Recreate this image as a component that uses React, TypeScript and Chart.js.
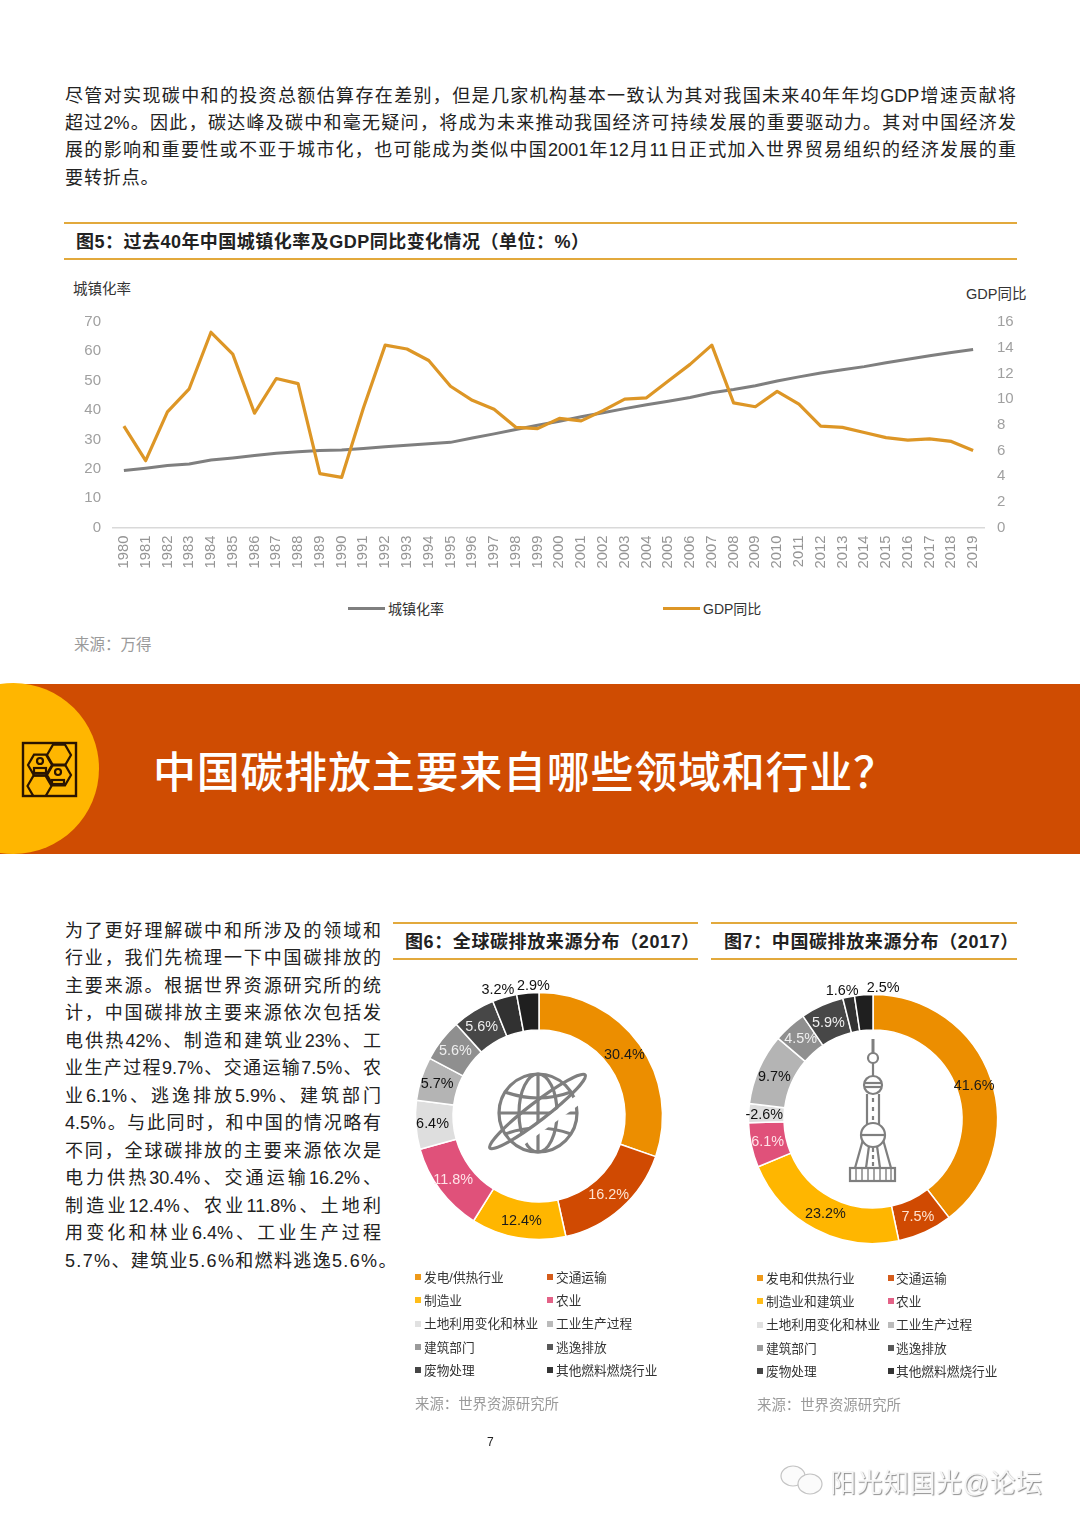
import React, { useEffect, useRef } from "react";
import Chart from "chart.js/auto";

const years = ["1980","1981","1982","1983","1984","1985","1986","1987","1988","1989","1990","1991","1992","1993","1994","1995","1996","1997","1998","1999","2000","2001","2002","2003","2004","2005","2006","2007","2008","2009","2010","2011","2012","2013","2014","2015","2016","2017","2018","2019"];
const urbanRate = [19.4,20.2,21.1,21.6,23.0,23.7,24.5,25.3,25.8,26.2,26.4,26.9,27.5,28.0,28.5,29.0,30.5,31.9,33.4,34.8,36.2,37.7,39.1,40.5,41.8,43.0,44.3,45.9,47.0,48.3,49.9,51.3,52.6,53.7,54.8,56.1,57.3,58.5,59.6,60.6];
const gdpGrowth = [7.9,5.2,9.0,10.8,15.2,13.5,8.9,11.6,11.2,4.2,3.9,9.3,14.2,13.9,13.0,11.0,9.9,9.2,7.8,7.7,8.5,8.3,9.1,10.0,10.1,11.4,12.7,14.2,9.7,9.4,10.6,9.6,7.9,7.8,7.4,7.0,6.8,6.9,6.7,6.0];

const globalLabels = ["发电/供热行业","交通运输","制造业","农业","土地利用变化和林业","工业生产过程","建筑部门","逃逸排放","废物处理","其他燃料燃烧行业"];
const globalValues = [30.4,16.2,12.4,11.8,6.4,5.7,5.6,5.6,3.2,2.9];
const chinaLabels = ["发电和供热行业","交通运输","制造业和建筑业","农业","土地利用变化和林业","工业生产过程","建筑部门","逃逸排放","废物处理","其他燃料燃烧行业"];
const chinaValues = [41.6,7.5,23.2,6.1,-2.6,9.7,4.5,5.9,1.6,2.5];

const sliceColors = ["#EC8E00","#D04A02","#FFB600","#E0517A","#DEDEDE","#B4B4B4","#8F8F8F","#474747","#313131","#1F1F1F"];
const labelColors = ["#1a1a1a","#FFE3D0","#1a1a1a","#FFE3E8","#111","#111","#EEE","#EEE","#111","#111"];
const globalOffsets = [[0,0],[0,1],[0,2],[-2,1],[-2,0],[-2,0],[-1,-1],[-2,0],[-12,-25],[4,-26]];
const chinaOffsets = [[0,1],[0,1],[2,1],[-1,1],[-2,1],[-1,1],[-1,-1],[-1,1],[-10,-23],[18,-25]];

const topPara = [
  "尽管对实现碳中和的投资总额估算存在差别，但是几家机构基本一致认为其对我国未来40年年均GDP增速贡献将",
  "超过2%。因此，碳达峰及碳中和毫无疑问，将成为未来推动我国经济可持续发展的重要驱动力。其对中国经济发",
  "展的影响和重要性或不亚于城市化，也可能成为类似中国2001年12月11日正式加入世界贸易组织的经济发展的重",
];
const topParaLast = "要转折点。";
const sidePara = [
  "为了更好理解碳中和所涉及的领域和",
  "行业，我们先梳理一下中国碳排放的",
  "主要来源。根据世界资源研究所的统",
  "计，中国碳排放主要来源依次包括发",
  "电供热42%、制造和建筑业23%、工",
  "业生产过程9.7%、交通运输7.5%、农",
  "业6.1%、逃逸排放5.9%、建筑部门",
  "4.5%。与此同时，和中国的情况略有",
  "不同，全球碳排放的主要来源依次是",
  "电力供热30.4%、交通运输16.2%、",
  "制造业12.4%、农业11.8%、土地利",
  "用变化和林业6.4%、工业生产过程",
];
const sideParaLast = "5.7%、建筑业5.6%和燃料逃逸5.6%。";

const FONT = '"Liberation Sans", "Noto Sans CJK SC", sans-serif';

function T({ x, y, size, color = "#222", weight = 400, children, spacing = 0, width }: any) {
  const justify = width !== undefined;
  return (
    <div
      style={{
        position: "absolute", left: x, top: y, transform: "translateY(-50%)",
        fontSize: size, color, fontWeight: weight, letterSpacing: spacing,
        whiteSpace: "nowrap", lineHeight: 1.2, fontFamily: FONT,
        ...(justify ? { width, textAlign: "justify", textAlignLast: "justify", whiteSpace: "normal" } : {}),
      }}
    >
      {children}
    </div>
  );
}

function Rule({ x, y, w }: any) {
  return <div style={{ position: "absolute", left: x, top: y - 1, width: w, height: 2, background: "#E2A93C" }} />;
}

function LineChart() {
  const ref = useRef<HTMLCanvasElement>(null);
  useEffect(() => {
    const chart = new Chart(ref.current!, {
      type: "line",
      data: {
        labels: years,
        datasets: [
          { label: "城镇化率", data: urbanRate, borderColor: "#7F7F7F", borderWidth: 3, pointRadius: 0, yAxisID: "y", order: 2 },
          { label: "GDP同比", data: gdpGrowth, borderColor: "#DD9626", borderWidth: 3.2, pointRadius: 0, yAxisID: "y1", order: 1, borderJoinStyle: "round" },
        ],
      },
      options: {
        responsive: false,
        animation: false,
        layout: { padding: { top: 20.5, bottom: 0, left: 0, right: 0 } },
        plugins: { legend: { display: false }, tooltip: { enabled: false } },
        scales: {
          x: {
            offset: true,
            grid: { display: false, drawTicks: false },
            border: { color: "#D9D9D9", width: 1.5 },
            ticks: { autoSkip: false, minRotation: 90, maxRotation: 90, padding: 8, color: "#959595", font: { size: 14.8, family: FONT } },
            afterFit: (s: any) => { s.height = 62.5; },
          },
          y: {
            position: "left", min: 0, max: 70,
            grid: { display: false, drawTicks: false },
            border: { display: false },
            ticks: { stepSize: 10, padding: 12, color: "#A0A0A0", font: { size: 15, family: FONT } },
            afterFit: (s: any) => { s.width = 53; },
          },
          y1: {
            position: "right", min: 0, max: 16,
            grid: { display: false, drawTicks: false },
            border: { display: false },
            ticks: { stepSize: 2, padding: 13, color: "#A0A0A0", font: { size: 15, family: FONT } },
            afterFit: (s: any) => { s.width = 46; },
          },
        },
      },
    } as any);
    return () => chart.destroy();
  }, []);
  return <canvas ref={ref} width={970} height={290} style={{ position: "absolute", left: 60, top: 300, width: 970, height: 290 }} />;
}

function Donut({ cx, cy, outer, inner, values, labels, colors, offsets }: any) {
  const ref = useRef<HTMLCanvasElement>(null);
  useEffect(() => {
    const labelPlugin = {
      id: "sliceLabels",
      afterDatasetsDraw(c: any) {
        const ctx = c.ctx;
        const arcs = c.getDatasetMeta(0).data;
        ctx.save();
        ctx.font = `14.4px ${FONT}`;
        ctx.textAlign = "center";
        ctx.textBaseline = "middle";
        arcs.forEach((arc: any, i: number) => {
          const p = arc.tooltipPosition();
          ctx.fillStyle = colors[i];
          ctx.fillText(`${values[i]}%`, p.x + offsets[i][0], p.y + offsets[i][1]);
        });
        ctx.restore();
      },
    };
    const chart = new Chart(ref.current!, {
      type: "doughnut",
      data: {
        labels,
        datasets: [{
          data: values.map((v: number) => Math.abs(v)),
          backgroundColor: sliceColors,
          borderColor: "#FFFFFF",
          borderWidth: 1.5,
        }],
      },
      options: {
        responsive: false,
        animation: false,
        radius: outer,
        cutout: `${(inner / outer) * 100}%`,
        plugins: { legend: { display: false }, tooltip: { enabled: false } },
      },
      plugins: [labelPlugin],
    } as any);
    return () => chart.destroy();
  }, []);
  return <canvas ref={ref} width={300} height={300} style={{ position: "absolute", left: cx - 150, top: cy - 150, width: 300, height: 300 }} />;
}

function KeyList({ labels, x1, t1, x2, t2, rows }: any) {
  return (
    <>
      {labels.map((l: string, i: number) => {
        const col = i % 2;
        const y = rows[Math.floor(i / 2)];
        return (
          <React.Fragment key={i}>
            <div style={{ position: "absolute", left: col ? x2 : x1, top: y - 4, width: 6, height: 6, background: sliceColors[i], opacity: 0.9 }} />
            <T x={col ? t2 : t1} y={y + 0.5} size={12.7} color="#333">{l}</T>
          </React.Fragment>
        );
      })}
    </>
  );
}

function hexPts(cx: number, cy: number) {
  const r = 12, h = 10.4;
  return [[cx - r, cy], [cx - r / 2, cy - h], [cx + r / 2, cy - h], [cx + r, cy], [cx + r / 2, cy + h], [cx - r / 2, cy + h]].map((p) => p.join(",")).join(" ");
}

function Icons() {
  const dark = "#2A1400";
  const g = "#7F7F7F";
  return (
    <svg width={1080} height={1527} style={{ position: "absolute", left: 0, top: 0, pointerEvents: "none" }}>
      <rect x={23} y={743} width={53} height={53} fill="none" stroke={dark} strokeWidth={2.4} />
      <defs><clipPath id="sq"><rect x={23} y={743} width={53} height={53} /></clipPath></defs>
      <g clipPath="url(#sq)" fill="none" stroke={dark} strokeWidth={2.2}>
        <polygon points={hexPts(59, 755)} />
        <polygon points={hexPts(40, 765)} />
        <polygon points={hexPts(59, 775)} />
        <polygon points={hexPts(39.5, 786)} />
        <circle cx={40} cy={761} r={3} />
        <circle cx={58} cy={772} r={3} />
        <rect x={34} y={768} width={12} height={5} />
        <rect x={52} y={780} width={12} height={4} />
      </g>
      <g fill="none" stroke={g} strokeWidth={3.2}>
        <circle cx={538} cy={1113} r={39} />
        <ellipse cx={538} cy={1113} rx={19} ry={39} />
        <line x1={538} y1={1074} x2={538} y2={1152} />
        <line x1={499} y1={1113} x2={577} y2={1113} />
        <path d="M505 1092 Q538 1104 571 1092" />
        <path d="M505 1134 Q538 1122 571 1134" />
        <line x1={520} y1={1142} x2={578} y2={1100} stroke="#fff" strokeWidth={9} />
        <ellipse cx={537.5} cy={1111.5} rx={60} ry={9} transform="rotate(-37.5 537.5 1111.5)" />
      </g>
      <g fill="#fff" stroke={g} strokeWidth={2.2}>
        <line x1={873} y1={1039} x2={873} y2={1054} strokeWidth={3} />
        <circle cx={873} cy={1058} r={5} />
        <line x1={873} y1={1063} x2={873} y2={1076} />
        <line x1={867} y1={1094} x2={867} y2={1126} />
        <line x1={879} y1={1094} x2={879} y2={1126} />
        <line x1={873} y1={1098} x2={873} y2={1122} strokeDasharray="4 5" />
        <circle cx={873} cy={1085} r={9} />
        <line x1={864} y1={1083} x2={882} y2={1083} />
        <line x1={864} y1={1087} x2={882} y2={1087} />
        <line x1={864} y1={1136} x2={855} y2={1168} />
        <line x1={882} y1={1136} x2={891} y2={1168} />
        <line x1={869} y1={1146} x2={866} y2={1168} />
        <line x1={877} y1={1146} x2={880} y2={1168} />
        <line x1={873} y1={1148} x2={873} y2={1168} strokeDasharray="4 3" />
        <circle cx={873} cy={1135} r={12} />
        <line x1={861} y1={1135} x2={885} y2={1135} />
        <rect x={850} y={1168} width={45} height={13} />
        {[856, 862, 868, 874, 880, 886, 891].map((x) => <line key={x} x1={x} y1={1168} x2={x} y2={1181} strokeWidth={1.4} />)}
      </g>
      <g fill="#fbfbfb" stroke="#c4c4c4" strokeWidth={1.2}>
        <ellipse cx={793} cy={1476} rx={12} ry={10} />
        <ellipse cx={810} cy={1484} rx={12} ry={10} />
      </g>
    </svg>
  );
}

export default function App() {
  return (
    <div style={{ position: "absolute", left: 0, top: 0, width: 1080, height: 1527, background: "#fff", overflow: "hidden", fontFamily: FONT }}>
      {topPara.map((l, i) => <T key={i} x={65} y={96.5 + i * 27.4} size={18} color="#222" width={951}>{l}</T>)}
      <T x={65} y={178.5} size={18} color="#222" spacing={0.9}>{topParaLast}</T>

      <Rule x={64} y={222.5} w={953} />
      <Rule x={64} y={258.5} w={953} />
      <T x={76} y={242.5} size={18} weight={700} color="#222" spacing={0.48}>图5：过去40年中国城镇化率及GDP同比变化情况（单位：%）</T>

      <T x={73} y={290} size={14.5} color="#333">城镇化率</T>
      <T x={966} y={294.5} size={14.5} color="#333">GDP同比</T>
      <LineChart />
      <div style={{ position: "absolute", left: 348, top: 607, width: 37, height: 3, background: "#7F7F7F" }} />
      <T x={388} y={608.5} size={14} color="#333">城镇化率</T>
      <div style={{ position: "absolute", left: 663, top: 607, width: 37, height: 3, background: "#DD9626" }} />
      <T x={703} y={608.5} size={14} color="#333">GDP同比</T>
      <T x={74} y={644.5} size={15.5} color="#9A9A9A">来源：万得</T>

      <div style={{ position: "absolute", left: 0, top: 684, width: 1080, height: 170, background: "#CF4C02" }} />
      <div style={{ position: "absolute", left: -72, top: 683, width: 171, height: 171, borderRadius: "50%", background: "#FFB600" }} />
      <T x={153} y={774} size={43} weight={500} color="#FFFFFF" spacing={0.75}>中国碳排放主要来自哪些领域和行业？</T>

      {sidePara.map((l, i) => <T key={i} x={65} y={931.5 + i * 27.5} size={18} color="#222" width={316}>{l}</T>)}
      <T x={65} y={1261.5} size={18} color="#222" spacing={1.35}>{sideParaLast}</T>

      <Rule x={393} y={922.5} w={305} />
      <Rule x={393} y={958.5} w={305} />
      <T x={405} y={942.5} size={18} weight={700} color="#222" spacing={0.6}>图6：全球碳排放来源分布（2017）</T>
      <Rule x={711} y={922.5} w={306} />
      <Rule x={711} y={958.5} w={306} />
      <T x={724} y={942.5} size={18} weight={700} color="#222" spacing={0.6}>图7：中国碳排放来源分布（2017）</T>

      <Donut cx={538.5} cy={1116} outer={123.5} inner={86} values={globalValues} labels={globalLabels} colors={labelColors} offsets={globalOffsets} />
      <Donut cx={873} cy={1118.5} outer={124.5} inner={89} values={chinaValues} labels={chinaLabels} colors={labelColors} offsets={chinaOffsets} />
      <Icons />

      <KeyList labels={globalLabels} x1={415} t1={424} x2={547} t2={556} rows={[1278, 1301, 1324.5, 1348, 1371]} />
      <KeyList labels={chinaLabels} x1={757} t1={766} x2={888} t2={896} rows={[1279, 1302, 1325.5, 1349, 1372]} />
      <T x={415} y={1404.5} size={14.4} color="#9A9A9A">来源：世界资源研究所</T>
      <T x={757} y={1405.5} size={14.4} color="#9A9A9A">来源：世界资源研究所</T>

      <T x={487} y={1442} size={12} color="#222">7</T>
      <div style={{ position: "absolute", left: 830, top: 1480, transform: "translateY(-50%)", fontSize: 26, letterSpacing: 0.5, color: "#f6f6f6", textShadow: "1px 1px 1px #8f8f8f", whiteSpace: "nowrap", fontFamily: FONT }}>阳光知国光@论坛</div>
    </div>
  );
}
